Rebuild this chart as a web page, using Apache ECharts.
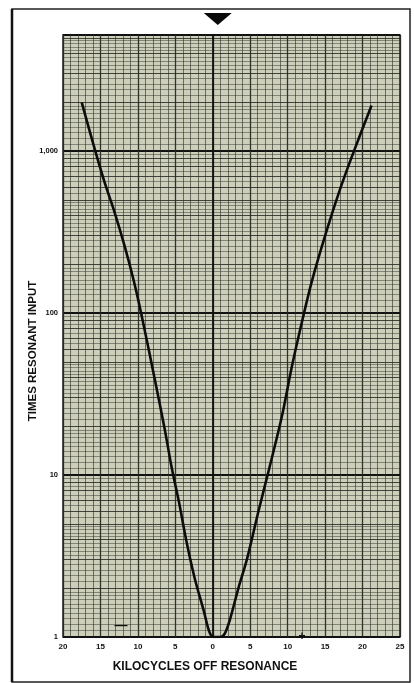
<!DOCTYPE html>
<html>
<head>
<meta charset="utf-8">
<script src="https://cdn.jsdelivr.net/npm/echarts@6/dist/echarts.min.js"></script>
<style>
html,body{margin:0;padding:0;background:#fff;}
#chart{width:414px;height:683px;}
</style>
</head>
<body>
<div id="chart"></div>
<script>
// Kilocycles off resonance (negative = below resonance)
const kcOff = [-17.5, -15.75, -14.4, -13.1, -11.75, -10.55, -9.48, -7.74, -6.41, -5.47, -4.54, -3.47, -2.4, -1.2, -0.53, 0, 0.5, 1.0, 1.6, 2.27, 3.47, 4.54, 6.14, 7.48, 9.21, 10.55, 11.88, 13.2, 14.95, 16.82, 18.56, 21.2];
// Times resonant input
const timesInput = [1995, 1023, 631, 417, 257, 158, 95.5, 38.9, 19.1, 11.0, 6.9, 3.8, 2.29, 1.45, 1.1, 1.0, 1.0, 1.0, 1.05, 1.27, 2.04, 2.99, 6.08, 10.7, 22.8, 46.4, 87, 155, 295, 550, 920, 1910];
const xTickValues = [-20, -15, -10, -5, 0, 5, 10, 15, 20, 25];
const yTickLabels = {1: '1', 10: '10', 100: '100', 1000: '1,000'};
const xTitle = 'KILOCYCLES OFF RESONANCE';
const yTitle = 'TIMES RESONANT INPUT';

const yMin = 1, yMax = 5200;
const lineCol = '#262a22';

// graph-paper horizontal rulings (log paper)
const paperLines = [];
[1, 10, 100, 1000].forEach(function (d) {
  for (let m = 1.1; m < 9.99; ) {
    const v = +(m * d).toFixed(4);
    const isInt = Math.abs(m - Math.round(m)) < 1e-6;
    if (v < yMax) {
      paperLines.push({yAxis: v, lineStyle: {type: 'solid', color: lineCol, width: 1, opacity: isInt ? 0.85 : 0.45}});
    }
    m = +(m + (m < 1.999 ? 0.1 : (m < 4.999 ? 0.2 : 0.5))).toFixed(2);
  }
});
paperLines.push({xAxis: 0, lineStyle: {type: 'solid', color: '#111', width: 1.8, opacity: 1}});

const chart = echarts.init(document.getElementById('chart'), null, {renderer: 'canvas'});
const labelFont = {fontFamily: 'Liberation Sans, Arial, sans-serif', fontWeight: 'bold', color: '#111'};

chart.setOption({
  backgroundColor: '#ffffff',
  animation: false,
  grid: {left: 63, right: 14, top: 35, bottom: 46, show: true, backgroundColor: '#cdcfbb', borderColor: '#1d1f1a', borderWidth: 1.5},
  xAxis: {
    type: 'value', min: -20, max: 25, interval: 5,
    axisLine: {show: false}, axisTick: {show: false},
    axisLabel: Object.assign({fontSize: 8, margin: 6, formatter: function (v) { return xTickValues.indexOf(v) >= 0 ? String(Math.abs(v)) : ''; }}, labelFont),
    splitLine: {show: true, lineStyle: {color: lineCol, width: 1.3, opacity: 0.95}},
    minorTick: {show: false, splitNumber: 5},
    minorSplitLine: {show: true, lineStyle: {color: lineCol, width: 1, opacity: 0.6}}
  },
  yAxis: {
    type: 'log', logBase: 10, min: yMin, max: yMax,
    axisLine: {show: false}, axisTick: {show: false},
    axisLabel: Object.assign({fontSize: 7.5, margin: 5, formatter: function (v) { return yTickLabels[Math.round(v)] || ''; }}, labelFont),
    splitLine: {show: true, lineStyle: {color: '#111', width: 1.8, opacity: 1}}
  },
  series: [
    {
      name: 'paper', type: 'line', data: [], z: 1, silent: true,
      markLine: {silent: true, symbol: ['none', 'none'], label: {show: false}, lineStyle: {type: 'solid'}, data: paperLines, animation: false}
    },
    {
      name: 'response', type: 'line', z: 5,
      data: kcOff.map(function (k, i) { return [k, timesInput[i]]; }),
      smooth: 0.3, showSymbol: false,
      lineStyle: {color: '#0c0c0c', width: 2.6},
      markPoint: {
        silent: true,
        data: [{coord: [0, yMax], symbol: 'triangle', symbolRotate: 180, symbolSize: [28, 12], symbolOffset: [5, -16], itemStyle: {color: '#0a0a0a'}, label: {show: false}}]
      }
    }
  ],
  graphic: [
    {type: 'rect', shape: {x: 12, y: 9, width: 398, height: 673}, style: {fill: 'none', stroke: '#222', lineWidth: 1.5}, z: 0},
    {type: 'line', shape: {x1: 12, y1: 9, x2: 12, y2: 682}, style: {stroke: '#111', lineWidth: 2.5}},
    {type: 'text', x: 205, y: 667, style: {text: xTitle, font: 'bold 12px "Liberation Sans", Arial, sans-serif', fill: '#111', textAlign: 'center', textVerticalAlign: 'middle'}},
    {type: 'text', x: 33, y: 351, rotation: Math.PI / 2, style: {text: yTitle, font: 'bold 11.5px "Liberation Sans", Arial, sans-serif', fill: '#111', textAlign: 'center', textVerticalAlign: 'middle'}},
    {type: 'text', x: 121, y: 625, z: 10, style: {text: '\u2014', font: 'bold 13px "Liberation Sans", Arial, sans-serif', fill: '#111', textAlign: 'center', textVerticalAlign: 'middle'}},
    {type: 'text', x: 302, y: 637, z: 10, style: {text: '+', font: 'bold 12px "Liberation Sans", Arial, sans-serif', fill: '#111', textAlign: 'center', textVerticalAlign: 'middle'}}
  ]
});
</script>
</body>
</html>
